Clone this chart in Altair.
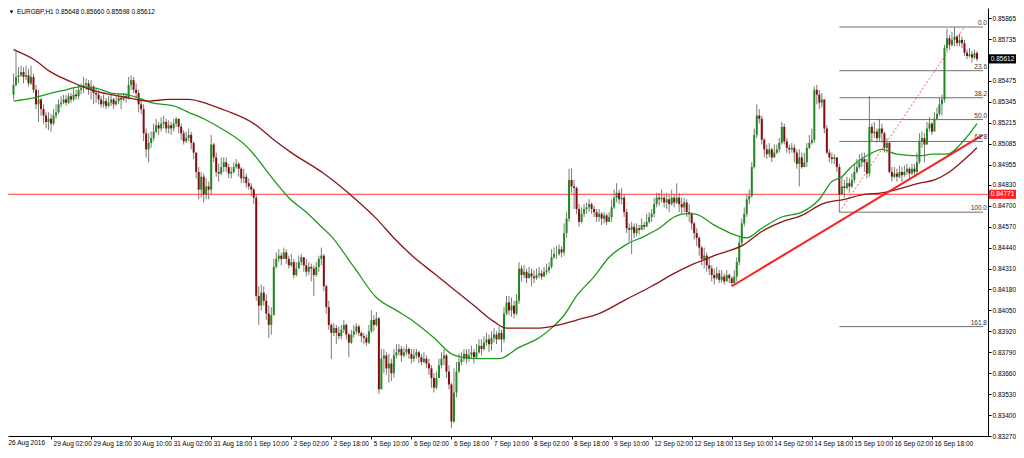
import altair as alt
import pandas as pd

FONT = "Liberation Sans"

# ---------------- data (EURGBP, H1) ----------------
first_open = 0.8539
close = [
    0.8545, 0.8550, 0.8551, 0.8553, 0.8550, 0.8551, 0.8546, 0.8550, 0.8542, 0.8533,
    0.8536, 0.8530, 0.8526, 0.8522, 0.8524, 0.8521, 0.8526, 0.8528, 0.8533, 0.8534,
    0.8536, 0.8534, 0.8538, 0.8536, 0.8539, 0.8538, 0.8542, 0.8543, 0.8545, 0.8546,
    0.8542, 0.8544, 0.8540, 0.8539, 0.8536, 0.8533, 0.8535, 0.8532, 0.8534, 0.8536,
    0.8533, 0.8535, 0.8537, 0.8536, 0.8538, 0.8537, 0.8545, 0.8548, 0.8542, 0.8540,
    0.8533, 0.8530, 0.8515, 0.8505, 0.8509, 0.8512, 0.8516, 0.8520, 0.8518, 0.8521,
    0.8522, 0.8518, 0.8520, 0.8518, 0.8521, 0.8524, 0.8519, 0.8515, 0.8510, 0.8512,
    0.8514, 0.8509, 0.8503, 0.8491, 0.8480, 0.8488, 0.8477, 0.8482, 0.8480, 0.8508,
    0.8500, 0.8491, 0.8490, 0.8494, 0.8497, 0.8494, 0.8490, 0.8491, 0.8494, 0.8496,
    0.8493, 0.8487, 0.8488, 0.8484, 0.8482, 0.8480, 0.8475, 0.8414, 0.8408, 0.8416,
    0.8411, 0.8403, 0.8396, 0.8402, 0.8432, 0.8437, 0.8439, 0.8437, 0.8441, 0.8437,
    0.8433, 0.8435, 0.8427, 0.8431, 0.8435, 0.8438, 0.8433, 0.8429, 0.8432, 0.8431,
    0.8427, 0.8432, 0.8437, 0.8439, 0.8420, 0.8407, 0.8396, 0.8391, 0.8394, 0.8391,
    0.8389, 0.8393, 0.8396, 0.8390, 0.8385, 0.8390, 0.8392, 0.8395, 0.8391, 0.8389,
    0.8388, 0.8385, 0.8392, 0.8399, 0.8396, 0.8400, 0.8356, 0.8375, 0.8377, 0.8369,
    0.8372, 0.8366, 0.8377, 0.8379, 0.8381, 0.8377, 0.8379, 0.8381, 0.8378, 0.8375,
    0.8377, 0.8379, 0.8376, 0.8373, 0.8375, 0.8372, 0.8369, 0.8363, 0.8357, 0.8363,
    0.8371, 0.8375, 0.8377, 0.8367, 0.8359, 0.8336, 0.8354, 0.8367, 0.8373, 0.8375,
    0.8378, 0.8375, 0.8377, 0.8379, 0.8376, 0.8379, 0.8383, 0.8381, 0.8385, 0.8387,
    0.8384, 0.8388, 0.8390, 0.8387, 0.8391, 0.8387, 0.8403, 0.8410, 0.8405, 0.8408,
    0.8403, 0.8411, 0.8431, 0.8427, 0.8429, 0.8425, 0.8428, 0.8426, 0.8425, 0.8427,
    0.8428, 0.8426, 0.8429, 0.8430, 0.8432, 0.8438, 0.8440, 0.8440, 0.8443, 0.8441,
    0.8453, 0.8462, 0.8486, 0.8482, 0.8481, 0.8468, 0.8460, 0.8465, 0.8468, 0.8469,
    0.8471, 0.8468, 0.8466, 0.8463, 0.8465, 0.8462, 0.8464, 0.8460, 0.8463, 0.8469,
    0.8475, 0.8478, 0.8474, 0.8475, 0.8466, 0.8456, 0.8455, 0.8457, 0.8453, 0.8456,
    0.8455, 0.8458, 0.8457, 0.8460, 0.8463, 0.8465, 0.8471, 0.8475, 0.8474, 0.8475,
    0.8472, 0.8474, 0.8471, 0.8475, 0.8472, 0.8475, 0.8471, 0.8469, 0.8472, 0.8466,
    0.8465, 0.8459, 0.8453, 0.8450, 0.8444, 0.8437, 0.8439, 0.8433, 0.8431, 0.8427,
    0.8425, 0.8428, 0.8424, 0.8426, 0.8423, 0.8427, 0.8425, 0.8422, 0.8426, 0.8435,
    0.8447, 0.8459, 0.8465, 0.8474, 0.8476, 0.8494, 0.8514, 0.8526, 0.8524, 0.8511,
    0.8505, 0.8502, 0.8505, 0.8500, 0.8503, 0.8505, 0.8509, 0.8519, 0.8510, 0.8506,
    0.8505, 0.8506, 0.8503, 0.8496, 0.8500, 0.8494, 0.8497, 0.8506, 0.8509, 0.8511,
    0.8542, 0.8539, 0.8534, 0.8536, 0.8518, 0.8503, 0.8500, 0.8499, 0.8500, 0.8494,
    0.8477, 0.8482, 0.8481, 0.8484, 0.8482, 0.8486, 0.8491, 0.8494, 0.8497, 0.8499,
    0.8497, 0.8490, 0.8519, 0.8515, 0.8516, 0.8512, 0.8518, 0.8515, 0.8506, 0.8509,
    0.8491, 0.8488, 0.8490, 0.8488, 0.8491, 0.8489, 0.8491, 0.8493, 0.8490, 0.8493,
    0.8491, 0.8497, 0.8510, 0.8512, 0.8508, 0.8518, 0.8521, 0.8516, 0.8524, 0.8527,
    0.8533, 0.8536, 0.8568, 0.8574, 0.8570, 0.8573, 0.8575, 0.8571, 0.8573, 0.8571,
    0.8565, 0.8563, 0.8564, 0.8562, 0.85648, 0.85612,
]
high = [
    0.8552, 0.8566, 0.8556, 0.8557, 0.8556, 0.8557, 0.8555, 0.8557, 0.8552, 0.8545,
    0.8542, 0.8537, 0.8533, 0.8528, 0.8528, 0.8527, 0.8530, 0.8533, 0.8536, 0.8538,
    0.8539, 0.8539, 0.8540, 0.8540, 0.8543, 0.8542, 0.8545, 0.8546, 0.8550, 0.8549,
    0.8548, 0.8548, 0.8545, 0.8543, 0.8542, 0.8538, 0.8539, 0.8537, 0.8538, 0.8539,
    0.8537, 0.8538, 0.8540, 0.8539, 0.8540, 0.8540, 0.8550, 0.8551, 0.8550, 0.8546,
    0.8542, 0.8536, 0.8533, 0.8518, 0.8515, 0.8516, 0.8521, 0.8524, 0.8522, 0.8525,
    0.8526, 0.8524, 0.8523, 0.8522, 0.8524, 0.8525, 0.8524, 0.8521, 0.8517, 0.8516,
    0.8518, 0.8516, 0.8510, 0.8503, 0.8494, 0.8491, 0.8490, 0.8487, 0.8485, 0.8514,
    0.8509, 0.8503, 0.8496, 0.8500, 0.8500, 0.8500, 0.8496, 0.8494, 0.8497, 0.8499,
    0.8497, 0.8494, 0.8493, 0.8490, 0.8487, 0.8484, 0.8481, 0.8477, 0.8420, 0.8421,
    0.8420, 0.8415, 0.8408, 0.8407, 0.8437, 0.8441, 0.8443, 0.8441, 0.8444, 0.8443,
    0.8439, 0.8440, 0.8437, 0.8435, 0.8439, 0.8440, 0.8438, 0.8437, 0.8435, 0.8434,
    0.8433, 0.8435, 0.8439, 0.8444, 0.8440, 0.8421, 0.8411, 0.8397, 0.8397, 0.8396,
    0.8395, 0.8396, 0.8399, 0.8397, 0.8391, 0.8393, 0.8396, 0.8397, 0.8396, 0.8392,
    0.8391, 0.8390, 0.8396, 0.8405, 0.8402, 0.8404, 0.8401, 0.8381, 0.8381, 0.8379,
    0.8378, 0.8375, 0.8381, 0.8384, 0.8384, 0.8383, 0.8382, 0.8384, 0.8382, 0.8381,
    0.8381, 0.8381, 0.8380, 0.8378, 0.8379, 0.8377, 0.8375, 0.8371, 0.8366, 0.8367,
    0.8375, 0.8379, 0.8381, 0.8378, 0.8371, 0.8360, 0.8369, 0.8373, 0.8378, 0.8379,
    0.8381, 0.8381, 0.8381, 0.8383, 0.8381, 0.8384, 0.8387, 0.8387, 0.8389, 0.8391,
    0.8390, 0.8392, 0.8394, 0.8392, 0.8395, 0.8393, 0.8407, 0.8414, 0.8414, 0.8413,
    0.8411, 0.8415, 0.8435, 0.8433, 0.8433, 0.8431, 0.8432, 0.8431, 0.8430, 0.8431,
    0.8432, 0.8430, 0.8432, 0.8434, 0.8435, 0.8443, 0.8444, 0.8445, 0.8446, 0.8445,
    0.8459, 0.8466, 0.8493, 0.8493, 0.8486, 0.8482, 0.8471, 0.8469, 0.8471, 0.8472,
    0.8474, 0.8472, 0.8470, 0.8468, 0.8468, 0.8466, 0.8466, 0.8465, 0.8466, 0.8474,
    0.8480, 0.8484, 0.8480, 0.8481, 0.8477, 0.8468, 0.8459, 0.8460, 0.8459, 0.8459,
    0.8458, 0.8462, 0.8460, 0.8465, 0.8466, 0.8468, 0.8475, 0.8478, 0.8478, 0.8480,
    0.8477, 0.8478, 0.8477, 0.8480, 0.8477, 0.8484, 0.8478, 0.8475, 0.8475, 0.8474,
    0.8471, 0.8466, 0.8460, 0.8456, 0.8451, 0.8445, 0.8444, 0.8441, 0.8438, 0.8433,
    0.8431, 0.8432, 0.8430, 0.8430, 0.8428, 0.8430, 0.8428, 0.8426, 0.8430, 0.8438,
    0.8451, 0.8462, 0.8469, 0.8477, 0.8480, 0.8497, 0.8518, 0.8533, 0.8530, 0.8526,
    0.8512, 0.8508, 0.8509, 0.8506, 0.8508, 0.8508, 0.8512, 0.8522, 0.8521, 0.8512,
    0.8508, 0.8509, 0.8508, 0.8505, 0.8505, 0.8503, 0.8503, 0.8509, 0.8514, 0.8518,
    0.8544, 0.8545, 0.8542, 0.8540, 0.8536, 0.8520, 0.8505, 0.8503, 0.8502, 0.8500,
    0.8496, 0.8488, 0.8486, 0.8488, 0.8487, 0.8490, 0.8496, 0.8499, 0.8502, 0.8503,
    0.8503, 0.8499, 0.8538, 0.8521, 0.8522, 0.8518, 0.8524, 0.8521, 0.8516, 0.8512,
    0.8510, 0.8494, 0.8494, 0.8493, 0.8495, 0.8494, 0.8495, 0.8496, 0.8494, 0.8496,
    0.8496, 0.8503, 0.8515, 0.8516, 0.8515, 0.8522, 0.8525, 0.8522, 0.8528, 0.8531,
    0.8537, 0.8539, 0.8570, 0.8580, 0.8576, 0.8578, 0.8581, 0.8576, 0.8577, 0.8575,
    0.8573, 0.8567, 0.8568, 0.8566, 0.8567, 0.85660,
]
low = [
    0.8536, 0.8544, 0.8546, 0.8550, 0.8546, 0.8548, 0.8544, 0.8545, 0.8540, 0.8530,
    0.8522, 0.8526, 0.8521, 0.8518, 0.8517, 0.8516, 0.8520, 0.8524, 0.8527, 0.8531,
    0.8533, 0.8532, 0.8533, 0.8534, 0.8535, 0.8536, 0.8536, 0.8539, 0.8540, 0.8542,
    0.8539, 0.8536, 0.8533, 0.8534, 0.8533, 0.8531, 0.8531, 0.8530, 0.8531, 0.8532,
    0.8530, 0.8532, 0.8533, 0.8530, 0.8535, 0.8534, 0.8536, 0.8542, 0.8540, 0.8537,
    0.8528, 0.8527, 0.8510, 0.8500, 0.8497, 0.8506, 0.8510, 0.8515, 0.8514, 0.8516,
    0.8518, 0.8515, 0.8515, 0.8514, 0.8516, 0.8519, 0.8515, 0.8511, 0.8508, 0.8509,
    0.8510, 0.8505, 0.8499, 0.8487, 0.8474, 0.8475, 0.8472, 0.8474, 0.8474, 0.8477,
    0.8497, 0.8488, 0.8485, 0.8489, 0.8491, 0.8491, 0.8487, 0.8487, 0.8490, 0.8493,
    0.8488, 0.8484, 0.8484, 0.8481, 0.8480, 0.8476, 0.8471, 0.8411, 0.8396, 0.8405,
    0.8408, 0.8399, 0.8388, 0.8390, 0.8402, 0.8431, 0.8435, 0.8433, 0.8437, 0.8434,
    0.8431, 0.8432, 0.8425, 0.8426, 0.8431, 0.8433, 0.8429, 0.8426, 0.8427, 0.8423,
    0.8414, 0.8426, 0.8429, 0.8433, 0.8417, 0.8403, 0.8393, 0.8375, 0.8389, 0.8384,
    0.8387, 0.8387, 0.8391, 0.8387, 0.8376, 0.8384, 0.8388, 0.8390, 0.8389, 0.8385,
    0.8384, 0.8383, 0.8384, 0.8391, 0.8392, 0.8395, 0.8353, 0.8356, 0.8366, 0.8365,
    0.8360, 0.8361, 0.8363, 0.8375, 0.8377, 0.8373, 0.8376, 0.8377, 0.8375, 0.8372,
    0.8373, 0.8375, 0.8372, 0.8371, 0.8372, 0.8369, 0.8365, 0.8357, 0.8354, 0.8356,
    0.8363, 0.8369, 0.8371, 0.8363, 0.8356, 0.8332, 0.8335, 0.8351, 0.8366, 0.8371,
    0.8373, 0.8372, 0.8373, 0.8375, 0.8372, 0.8375, 0.8378, 0.8377, 0.8380, 0.8383,
    0.8379, 0.8380, 0.8385, 0.8384, 0.8387, 0.8379, 0.8385, 0.8402, 0.8402, 0.8401,
    0.8400, 0.8402, 0.8409, 0.8423, 0.8425, 0.8422, 0.8425, 0.8420, 0.8422, 0.8424,
    0.8425, 0.8424, 0.8426, 0.8427, 0.8428, 0.8431, 0.8437, 0.8437, 0.8439, 0.8438,
    0.8439, 0.8450, 0.8460, 0.8478, 0.8468, 0.8465, 0.8457, 0.8459, 0.8463, 0.8465,
    0.8466, 0.8465, 0.8463, 0.8460, 0.8460, 0.8458, 0.8459, 0.8458, 0.8460, 0.8460,
    0.8468, 0.8472, 0.8471, 0.8471, 0.8463, 0.8453, 0.8447, 0.8440, 0.8450, 0.8451,
    0.8452, 0.8455, 0.8455, 0.8457, 0.8459, 0.8460, 0.8463, 0.8469, 0.8470, 0.8472,
    0.8469, 0.8468, 0.8466, 0.8470, 0.8469, 0.8471, 0.8466, 0.8465, 0.8466, 0.8463,
    0.8460, 0.8455, 0.8449, 0.8445, 0.8439, 0.8433, 0.8431, 0.8429, 0.8427, 0.8423,
    0.8421, 0.8424, 0.8422, 0.8422, 0.8421, 0.8424, 0.8422, 0.8420, 0.8421, 0.8423,
    0.8433, 0.8445, 0.8457, 0.8463, 0.8471, 0.8475, 0.8493, 0.8512, 0.8521, 0.8508,
    0.8500, 0.8499, 0.8500, 0.8497, 0.8500, 0.8502, 0.8503, 0.8508, 0.8508, 0.8503,
    0.8502, 0.8503, 0.8497, 0.8493, 0.8482, 0.8493, 0.8494, 0.8494, 0.8505, 0.8508,
    0.8509, 0.8533, 0.8530, 0.8531, 0.8515, 0.8502, 0.8497, 0.8496, 0.8496, 0.8491,
    0.8466, 0.8477, 0.8475, 0.8480, 0.8478, 0.8481, 0.8484, 0.8490, 0.8493, 0.8494,
    0.8491, 0.8487, 0.8488, 0.8510, 0.8512, 0.8509, 0.8510, 0.8509, 0.8503, 0.8503,
    0.8490, 0.8485, 0.8487, 0.8485, 0.8487, 0.8485, 0.8488, 0.8489, 0.8487, 0.8489,
    0.8488, 0.8490, 0.8496, 0.8506, 0.8497, 0.8512, 0.8516, 0.8514, 0.8520, 0.8523,
    0.8526, 0.8526, 0.8534, 0.8566, 0.8567, 0.8569, 0.8569, 0.8569, 0.8569, 0.8568,
    0.8563, 0.8561, 0.8562, 0.8559, 0.8561, 0.85598,
]

# moving averages at a set of bars
green_ma_idx = [0, 8, 15, 21, 27, 33, 39, 45, 50, 55, 64, 70, 76, 83, 93, 96, 100, 102, 105, 110,
                117, 123, 127, 136, 145, 153, 160, 168, 175, 179, 187, 194, 202, 210, 215, 220,
                225, 232, 238, 245, 252, 258, 264, 268, 272, 280, 288, 293, 299, 307, 315, 322,
                327, 331, 334, 342, 347, 353, 362, 367, 373, 380, 385]
green_ma = [0.8535, 0.8537, 0.8540, 0.8542, 0.8544, 0.8543, 0.8540, 0.8539, 0.8537, 0.8534,
            0.8532, 0.8528, 0.8524, 0.8518, 0.8507, 0.8502, 0.8494, 0.8490, 0.8484, 0.8475,
            0.8466, 0.8457, 0.8451, 0.8432, 0.8413, 0.8405, 0.8398, 0.8388, 0.8378, 0.8376,
            0.8375, 0.8375, 0.8382, 0.8388, 0.8394, 0.8402, 0.8414, 0.8426, 0.8438, 0.8446,
            0.8451, 0.8456, 0.8463, 0.8465, 0.8465, 0.8458, 0.8452, 0.8450, 0.8456, 0.8463,
            0.8466, 0.8474, 0.8485, 0.8488, 0.8493, 0.8502, 0.8505, 0.8502, 0.8501, 0.8502,
            0.8502, 0.8511, 0.8521]
red_ma_idx = [0, 8, 15, 23, 31, 39, 46, 54, 62, 70, 78, 85, 96, 104, 111, 124, 136, 145, 152, 160,
              168, 176, 184, 192, 197, 202, 210, 218, 225, 234, 245, 255, 264, 272, 280, 292,
              299, 307, 315, 323, 332, 340, 347, 355, 362, 368, 373, 378, 385]
red_ma = [0.8567, 0.8561, 0.8553, 0.8547, 0.8542, 0.8539, 0.8537, 0.8535, 0.8536, 0.8536,
          0.8533, 0.8529, 0.8521, 0.8511, 0.8503, 0.8490, 0.8475, 0.8462, 0.8450, 0.8438,
          0.8428, 0.8418, 0.8408, 0.8398, 0.8394, 0.8394, 0.8394, 0.8396, 0.8399, 0.8403,
          0.8412, 0.8420, 0.8428, 0.8434, 0.8439, 0.8446, 0.8454, 0.8460, 0.8464, 0.8471,
          0.8474, 0.8477, 0.8478, 0.8481, 0.8484, 0.8486, 0.8490, 0.8496, 0.8506]

level_price = 0.84771
last_price = 0.85612
trend_idx = [287, 387.4]
trend_price = [0.8420, 0.8514]
fib_idx = [330, 380]
fib_price = [0.8466, 0.8581]          # 100% point, 0% point
fib_ratios = [0.0, 23.6, 38.2, 50.0, 61.8, 100.0, 161.8]

y_ticks = [0.85865, 0.85735, 0.85475, 0.85345, 0.85215, 0.85085, 0.84955, 0.84830, 0.84700,
           0.84570, 0.84440, 0.84310, 0.84180, 0.84050, 0.83920, 0.83790, 0.83660, 0.83530,
           0.83400, 0.83270]
first_label = "26 Aug 2016"
x_tick_idx = [15, 31, 47, 63, 79, 95, 111, 127, 143, 159, 175, 191, 207, 223, 239, 255,
              271, 287, 303, 319, 335, 351, 367]
x_tick_labels = ["29 Aug 02:00", "29 Aug 18:00", "30 Aug 10:00", "31 Aug 02:00",
                 "31 Aug 18:00", "1 Sep 10:00", "2 Sep 02:00", "2 Sep 18:00", "5 Sep 10:00",
                 "6 Sep 02:00", "6 Sep 18:00", "7 Sep 10:00", "8 Sep 02:00", "8 Sep 18:00",
                 "9 Sep 10:00", "12 Sep 02:00", "12 Sep 18:00", "13 Sep 10:00", "14 Sep 02:00",
                 "14 Sep 18:00", "15 Sep 10:00", "16 Sep 02:00", "16 Sep 18:00"]
header = "EURGBP,H1  0.85648 0.85660 0.85598 0.85612"

# ---------------- tables ----------------
opens = [first_open] + close[:-1]
rows = []
for k, (o, h, l, c) in enumerate(zip(opens, high, low, close)):
    rows.append({"i": k, "o": o, "h": h, "l": l, "c": c, "dir": "up" if c >= o else "down"})
candles = pd.DataFrame(rows)

green_df = pd.DataFrame({"i": green_ma_idx, "v": green_ma})
red_df = pd.DataFrame({"i": red_ma_idx, "v": red_ma})
trend_df = pd.DataFrame({"i": trend_idx, "v": trend_price})
fib_diag_df = pd.DataFrame({"i": fib_idx, "v": fib_price})
X_MAX = 387.4
fib_df = pd.DataFrame({
    "r": fib_ratios,
    "v": [fib_price[1] - (fib_price[1] - fib_price[0]) * r / 100.0 for r in fib_ratios],
    "x0": [fib_idx[0]] * len(fib_ratios),
    "x1": [X_MAX] * len(fib_ratios),
    "lbl": [f"{r:.1f}" for r in fib_ratios],
})
level_df = pd.DataFrame({"v": [level_price], "t": [f"{level_price:.5f}"]})
last_df = pd.DataFrame({"v": [last_price], "t": [f"{last_price:.5f}"]})
head_df = pd.DataFrame({"t": [header]})
first_df = pd.DataFrame({"t": [first_label]})

# ---------------- chart ----------------
W, H = 980, 428
xs = alt.Scale(domain=[-0.2, X_MAX], nice=False, zero=False)
ys = alt.Scale(domain=[0.8327, 0.85928], nice=False, zero=False)

label_expr = ("[" + ",".join(f"'{s}'" for s in x_tick_labels) + "][indexof(["
              + ",".join(str(v) for v in x_tick_idx) + "], datum.value)]")

x_axis = alt.Axis(orient="bottom", values=x_tick_idx, labelExpr=label_expr, labelAlign="left",
                  labelBaseline="top", labelFont=FONT, labelFontSize=6.5, labelColor="#000000",
                  labelOffset=2, labelPadding=1, tickSize=3, tickColor="#000000",
                  domainColor="#000000", domainWidth=1, labelOverlap=False, labelBound=False,
                  labelFlush=False, grid=False, title=None)
y_axis = alt.Axis(orient="right", values=y_ticks, format=".5f", labelFont=FONT,
                  labelFontSize=6.5, labelColor="#000000", labelPadding=1, tickSize=3,
                  tickColor="#000000", domainColor="#000000", domainWidth=1,
                  labelOverlap=False, labelBound=False, labelFlush=False, grid=False, title=None)


def X(field):
    return alt.X(field, scale=xs, axis=x_axis, title=None)


def Y(field):
    return alt.Y(field, scale=ys, axis=y_axis, title=None)


wicks = alt.Chart(candles).mark_rule(color="#7a7a7a", strokeWidth=1).encode(
    x=X("i:Q"), y=Y("l:Q"), y2="h:Q")
bodies = alt.Chart(candles).mark_bar(size=2).encode(
    x=X("i:Q"), y=Y("o:Q"), y2="c:Q",
    color=alt.Color("dir:N", scale=alt.Scale(domain=["up", "down"], range=["#1f8a1f", "#840c0c"]),
                    legend=None),
)
green_line = alt.Chart(green_df).mark_line(color="#1c9a1c", strokeWidth=1.3,
                                           interpolate="monotone").encode(x=X("i:Q"), y=Y("v:Q"))
red_line = alt.Chart(red_df).mark_line(color="#8e1515", strokeWidth=1.3,
                                       interpolate="monotone").encode(x=X("i:Q"), y=Y("v:Q"))

level_rule = alt.Chart(level_df).mark_rule(color="#ff3b3b", strokeWidth=1).encode(y=Y("v:Q"))

fib_rules = alt.Chart(fib_df).mark_rule(color="#6e6e6e", strokeWidth=1).encode(
    x=X("x0:Q"), x2="x1:Q", y=Y("v:Q"))
fib_text = alt.Chart(fib_df).mark_text(align="right", baseline="bottom", dy=-1, font=FONT,
                                       fontSize=6.5, color="#333333").encode(
    x=alt.value(W - 1), y=Y("v:Q"), text="lbl:N")
fib_diag = alt.Chart(fib_diag_df).mark_line(color="#ff5a5a", strokeWidth=1,
                                            strokeDash=[2, 2]).encode(x=X("i:Q"), y=Y("v:Q"))

trend = alt.Chart(trend_df).mark_line(color="#ff1e1e", strokeWidth=2, clip=True).encode(
    x=X("i:Q"), y=Y("v:Q"))

BOX = "M-1,-0.34L1,-0.34L1,0.34L-1,0.34Z"
level_box = alt.Chart(level_df).mark_point(shape=BOX, size=729, filled=True, opacity=1,
                                           color="#ff2020", strokeWidth=0).encode(
    x=alt.value(W + 14.5), y=Y("v:Q"))
level_txt = alt.Chart(level_df).mark_text(color="white", font=FONT, fontSize=6.5,
                                          align="center", baseline="middle").encode(
    x=alt.value(W + 14.5), y=Y("v:Q"), text="t:N")
last_box = alt.Chart(last_df).mark_point(shape=BOX, size=729, filled=True, opacity=1,
                                         color="#000000", strokeWidth=0).encode(
    x=alt.value(W + 14.5), y=Y("v:Q"))
last_txt = alt.Chart(last_df).mark_text(color="white", font=FONT, fontSize=6.5,
                                        align="center", baseline="middle").encode(
    x=alt.value(W + 14.5), y=Y("v:Q"), text="t:N")

head_tri = alt.Chart(head_df).mark_point(shape="triangle-down", size=14, filled=True,
                                         opacity=1, color="#000000").encode(
    x=alt.value(3.5), y=alt.value(4))
head_txt = alt.Chart(head_df).mark_text(align="left", baseline="middle", font=FONT,
                                        fontSize=6.5, color="#000000").encode(
    x=alt.value(9), y=alt.value(4), text="t:N")
first_txt = alt.Chart(first_df).mark_text(align="left", baseline="top", font=FONT,
                                          fontSize=6.5, color="#000000").encode(
    x=alt.value(0.5), y=alt.value(H + 4), text="t:N")

chart = alt.layer(
    wicks, level_rule, fib_rules, fib_diag, bodies, green_line, red_line, trend,
    fib_text, level_box, level_txt, last_box, last_txt, head_tri, head_txt, first_txt,
).properties(
    width=W, height=H,
    autosize=alt.AutoSizeParams(type="none"),
    padding={"left": 0, "top": 0, "right": 28, "bottom": 12},
    background="white",
).configure_view(stroke=None)

chart.save("out.html", embed_options={"renderer": "svg", "actions": False})
